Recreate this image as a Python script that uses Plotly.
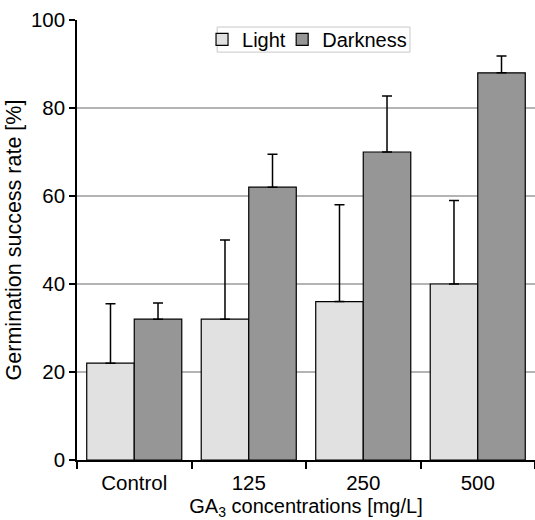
import plotly.graph_objects as go

categories = ["Control", "125", "250", "500"]
light_mean = [22, 32, 36, 40]
light_err = [13.5, 18, 22, 19]
dark_mean = [32, 62, 70, 88]
dark_err = [3.7, 7.5, 12.7, 3.8]

font_family = "Liberation Sans, Arial, sans-serif"

fig = go.Figure()
fig.add_trace(go.Bar(
    name="Light", x=categories, y=light_mean, legend="legend", showlegend=True,
    marker=dict(color="#e1e1e1", line=dict(color="black", width=1.2)),
    error_y=dict(type="data", array=light_err, arrayminus=[0] * 4, symmetric=False,
                 color="black", thickness=1.5, width=5),
))
fig.add_trace(go.Bar(
    name="Darkness", x=categories, y=dark_mean, legend="legend2", showlegend=True,
    marker=dict(color="#969696", line=dict(color="black", width=1.2)),
    error_y=dict(type="data", array=dark_err, arrayminus=[0] * 4, symmetric=False,
                 color="black", thickness=1.5, width=5),
))

# thin frame around the two legend entries
fig.add_shape(type="rect", xref="paper", yref="paper",
              x0=0.306, x1=0.727, y0=0.927, y1=0.984,
              line=dict(color="#c8c8c8", width=1), fillcolor="rgba(0,0,0,0)", layer="above")

legend_style = dict(
    orientation="h", xanchor="left", y=0.956, yanchor="middle",
    borderwidth=0, bgcolor="rgba(0,0,0,0)",
    font=dict(size=20), itemwidth=30, visible=True,
)

fig.update_layout(
    width=535, height=520,
    margin=dict(l=77, r=0, t=20, b=60),
    paper_bgcolor="white", plot_bgcolor="white",
    showlegend=True,
    barmode="group", bargap=0.17, bargroupgap=0,
    font=dict(family=font_family, size=20, color="black"),
    legend=dict(x=0.273, **legend_style),
    legend2=dict(x=0.448, **legend_style),
    xaxis=dict(
        showline=True, linecolor="black", linewidth=1.5,
        ticks="outside", tickson="boundaries", ticklen=7, tickcolor="black", tickwidth=1.5,
        ticklabelstandoff=4,
        title=dict(text="GA<sub>3</sub> concentrations [mg/L]", standoff=7, font=dict(size=20)),
        tickfont=dict(size=20.5),
    ),
    yaxis=dict(
        range=[0, 100], dtick=20,
        showline=True, linecolor="black", linewidth=1.5,
        ticks="outside", ticklen=6, tickcolor="black", tickwidth=1.5,
        showgrid=True, gridcolor="#b4b4b4", gridwidth=1.5, zeroline=False,
        title=dict(text="Germination success rate [%]", standoff=3, font=dict(size=21.5)),
        tickfont=dict(size=20.5),
    ),
)

fig.write_html("out.html")
